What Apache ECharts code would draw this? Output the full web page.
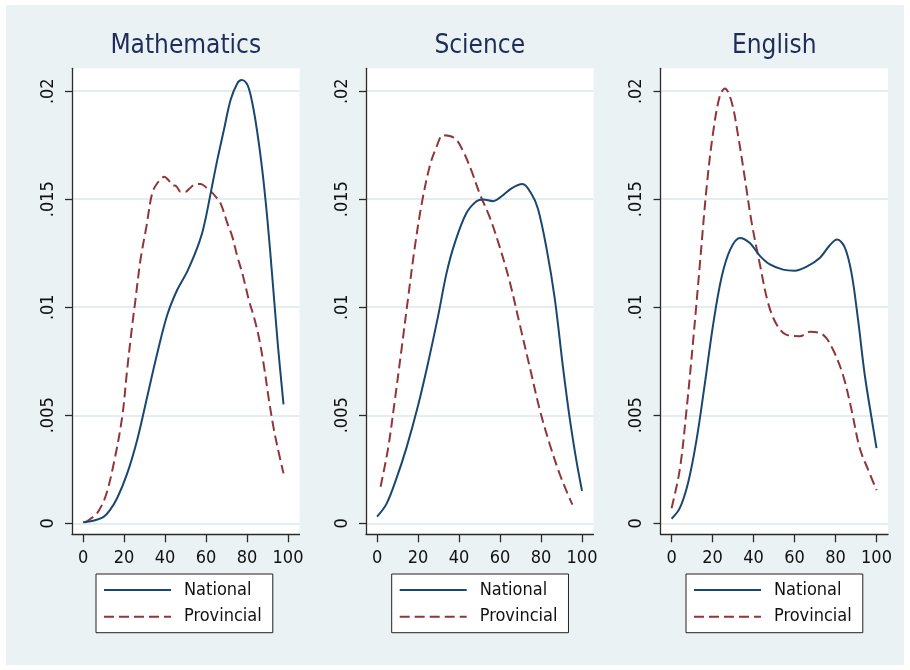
<!DOCTYPE html>
<html>
<head>
<meta charset="utf-8">
<script src="https://cdn.jsdelivr.net/npm/echarts@6/dist/echarts.min.js"></script>
<style>
html,body{margin:0;padding:0;background:#fff;}
#wrap{position:relative;width:910px;height:670px;}
#chart{position:absolute;left:0;top:0;width:910px;height:670px;}
#frame{position:absolute;left:0;top:0;width:910px;height:670px;box-sizing:border-box;border-style:solid;border-color:#fff;border-width:5px 6px 5px 6px;pointer-events:none;}
</style>
</head>
<body>
<div id="wrap"><div id="chart"></div><div id="frame"></div></div>
<script>
// ---- data (x = score, y = density) ----
const panelTitles = ['Mathematics', 'Science', 'English'];
const seriesNames = ['National', 'Provincial'];
const xTicks = [0, 20, 40, 60, 80, 100];
const yTicks = [0, 0.005, 0.01, 0.015, 0.02];
const yTickLabels = ['0', '.005', '.01', '.015', '.02'];

const mathNational = [[0,0.00005],[5,0.00012],[10,0.0003],[13,0.0006],[16.6,0.00116],[21.5,0.0023],[26.4,0.00386],[31.3,0.00586],[36.2,0.00787],[41.1,0.00965],[45.9,0.0108],[50.8,0.01165],[55.5,0.0127],[58,0.0134],[60,0.0142],[62.5,0.0154],[65.5,0.01682],[68.7,0.0182],[72,0.0196],[75.3,0.02037],[77.4,0.02052],[80.2,0.02029],[82.6,0.01944],[85,0.0181],[87.5,0.0163],[90,0.014],[92.5,0.0112],[95,0.0083],[97.8,0.0055]];
const mathProvincial = [[1,0.00003],[3.5,0.0002],[6.8,0.00046],[10.9,0.00123],[15,0.00278],[19.1,0.00493],[21.5,0.0071],[23.9,0.0091],[25.5,0.0103],[28,0.01219],[30.9,0.01373],[33.7,0.01527],[36.2,0.01574],[39.7,0.01604],[41.5,0.0159],[43.5,0.01566],[45.5,0.0156],[47.6,0.01535],[50,0.01535],[52,0.0155],[54.1,0.01566],[57.3,0.01571],[60.6,0.0155],[62.5,0.01535],[64.7,0.01512],[67.1,0.01481],[70.4,0.01389],[72.8,0.01327],[75.3,0.01234],[77.7,0.01157],[81,0.0103],[83.5,0.0095],[85.8,0.0086],[88.3,0.00725],[90.7,0.0057],[92.8,0.0045],[94.8,0.00355],[97.8,0.00231]];

const sciNational = [[0,0.00031],[4.6,0.0009],[9.5,0.00209],[14.3,0.00348],[20,0.00545],[24.9,0.00743],[29.8,0.0096],[33.9,0.01158],[37.9,0.01297],[43.6,0.01436],[48.5,0.01491],[51.7,0.01499],[56.6,0.01491],[61.5,0.01519],[65.6,0.0155],[70.9,0.0157],[75.3,0.01525],[78.5,0.01456],[82.6,0.01277],[86.7,0.0104],[90.7,0.00723],[94,0.00486],[97.3,0.00288],[100,0.0015]];
const sciProvincial = [[1.7,0.00169],[5.4,0.00348],[8.6,0.00565],[11.9,0.00803],[15.1,0.0104],[18.4,0.01277],[21.7,0.01475],[25.7,0.01653],[29,0.01742],[32.2,0.01796],[37.9,0.01782],[42,0.01722],[46,0.01633],[50.1,0.01525],[55,0.01416],[59.9,0.01277],[64.7,0.01119],[69.6,0.00921],[74.5,0.00723],[79.4,0.00525],[84.2,0.00367],[89.1,0.00228],[92.4,0.0015],[95.3,0.00086]];

const engNational = [[0,0.00021],[4,0.0007],[8.1,0.00189],[12.2,0.00387],[16.2,0.00644],[20.3,0.00921],[24.4,0.01139],[28.6,0.01267],[33.3,0.01321],[38.2,0.01297],[43.1,0.01238],[48,0.01198],[54.4,0.01174],[60.1,0.01169],[65.9,0.01188],[72.3,0.01228],[77.2,0.01287],[80.8,0.01313],[84.5,0.01277],[87.8,0.01158],[91,0.00941],[94.3,0.00684],[97.6,0.00486],[100,0.00348]];
const engProvincial = [[0,0.0007],[4,0.00248],[7.3,0.00525],[10.5,0.00842],[13.8,0.01198],[17.1,0.01554],[20.3,0.01811],[23.6,0.0198],[26,0.02013],[29.3,0.0195],[32.5,0.01792],[35.8,0.01594],[39,0.01396],[43.1,0.01198],[47.1,0.0102],[51.2,0.00921],[56.1,0.00872],[62.6,0.00866],[67.5,0.00886],[74,0.00872],[78.8,0.00803],[83.7,0.00684],[87.8,0.00525],[91.8,0.00348],[95.9,0.00248],[100,0.00153]];

const panelData = [[mathNational, mathProvincial],[sciNational, sciProvincial],[engNational, engProvincial]];

// ---- styling / layout ----
const FONT = "'DejaVu Sans Condensed', 'Liberation Sans', Arial, sans-serif";
const BG = '#eaf2f3';
const NAVY = '#1a476f';
const MAROON = '#90353b';
const gridLefts = [72, 366, 660.5];
const GRID_TOP = 68.3, GRID_H = 466, GRID_W = 227.5;
const legendLefts = [96, 391.7, 686];

const grids = [], xAxes = [], yAxes = [], series = [], legends = [], graphics = [];

gridLefts.forEach(function (gl, i) {
  grids.push({left: gl, top: GRID_TOP, width: GRID_W, height: GRID_H, show: true, backgroundColor: '#fff', borderWidth: 0, containLabel: false});
  xAxes.push({
    type: 'value', gridIndex: i, min: -5.4, max: 105.6,
    axisLine: {show: true, onZero: false, lineStyle: {color: '#2b2b2b', width: 1.3}},
    axisTick: {show: true, customValues: xTicks, length: 8, inside: false, lineStyle: {color: '#2b2b2b', width: 1.3}},
    axisLabel: {show: true, customValues: xTicks, margin: 15, fontSize: 18, fontFamily: FONT, color: '#111'},
    splitLine: {show: false}
  });
  yAxes.push({
    type: 'value', gridIndex: i, min: -0.00051, max: 0.02106,
    axisLine: {show: true, onZero: false, lineStyle: {color: '#2b2b2b', width: 1.3}},
    axisTick: {show: true, customValues: yTicks, length: 7, lineStyle: {color: '#2b2b2b', width: 1.3}},
    axisLabel: {
      show: true, customValues: yTicks, rotate: 90, margin: 15, fontSize: 18, fontFamily: FONT, color: '#111',
      formatter: function (v) {
        let best = 0;
        yTicks.forEach(function (t, k) { if (Math.abs(t - v) < Math.abs(yTicks[best] - v)) best = k; });
        return yTickLabels[best];
      }
    },
    splitLine: {show: true, lineStyle: {color: '#e4eef0', width: 2}}
  });
  panelData[i].forEach(function (d, j) {
    series.push({
      name: seriesNames[j], type: 'line', xAxisIndex: i, yAxisIndex: i,
      data: d, symbol: 'none', showSymbol: false, smooth: 0.35, z: 3 + (1 - j),
      lineStyle: {color: j === 0 ? NAVY : MAROON, width: 2, type: j === 0 ? 'solid' : [10, 5]},
      itemStyle: {color: j === 0 ? NAVY : MAROON},
      emphasis: {disabled: true}, animation: false
    });
  });
  legends.push({
    show: true, left: legendLefts[i], top: 574, orient: 'vertical', align: 'left',
    data: seriesNames, itemWidth: 67, itemHeight: 14, itemGap: 6.7,
    padding: [6, 11, 6, 7], backgroundColor: '#fff', borderColor: '#222', borderWidth: 1, borderRadius: 0,
    selectedMode: false,
    textStyle: {fontSize: 18, fontFamily: FONT, color: '#111', lineHeight: 20, padding: [0, 0, 0, 8]},
    itemStyle: {opacity: 0, color: 'rgba(0,0,0,0)', borderWidth: 0},
    lineStyle: {width: 2, opacity: 1}
  });
  graphics.push({
    type: 'text', x: gl + GRID_W / 2, y: 46,
    style: {text: panelTitles[i], align: 'center', verticalAlign: 'middle', textAlign: 'center', textVerticalAlign: 'middle',
            font: '26px ' + FONT, fontSize: 26, fontFamily: FONT, fill: '#1f2d5c'}
  });
});

const chart = echarts.init(document.getElementById('chart'), null, {renderer: 'canvas'});
chart.setOption({
  backgroundColor: BG,
  animation: false,
  grid: grids, xAxis: xAxes, yAxis: yAxes, series: series, legend: legends,
  graphic: graphics,
  tooltip: {show: false}
});
</script>
</body>
</html>
